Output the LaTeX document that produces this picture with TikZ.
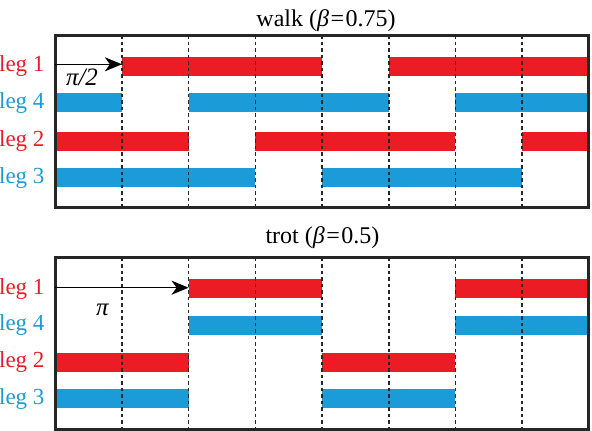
\documentclass[tikz,border=0pt]{standalone}
\usepackage{fontspec}
\setmainfont{Liberation Serif}
\usetikzlibrary{arrows.meta}
\definecolor{legred}{RGB}{236,28,36}
\definecolor{legblue}{RGB}{27,155,215}
\begin{document}
\begin{tikzpicture}[x=1pt,y=-1pt,
  frame/.style={line width=3pt,draw=black!85},
  grid/.style={line width=1.6pt,draw=black!85,dash pattern=on 3.5pt off 3pt},
  redbar/.style={fill=legred},
  bluebar/.style={fill=legblue},
  legred lbl/.style={text=legred,font=\fontsize{23}{25}\selectfont,anchor=base east},
  legblue lbl/.style={text=legblue,font=\fontsize{23}{25}\selectfont,anchor=base east},
  ttl/.style={font=\fontsize{24}{26}\selectfont,anchor=base},
  phase/.style={font=\fontsize{25}{27}\selectfont\itshape,anchor=base},
  phasearrow/.style={line width=1.5pt,-{Stealth[length=17pt,width=14pt,inset=5pt]}}
]
\useasboundingbox (0,0) rectangle (592,431);
\def\xa{55.2}\def\st{66.7}
% ---------- walk ----------
\node[ttl] (t1) at (326,26.5) {walk (\textit{β}\hspace{1.5pt}=\hspace{1.5pt}0.75)};
% bars: y centres
\def\ya{66}\def\yb{102.7}\def\yc{141.2}\def\yd{177.8}
\foreach \s/\e/\y/\c in {
  1/4/\ya/redbar, 5/8/\ya/redbar,
  0/1/\yb/bluebar, 2/5/\yb/bluebar, 6/8/\yb/bluebar,
  0/2/\yc/redbar, 3/6/\yc/redbar, 7/8/\yc/redbar,
  0/3/\yd/bluebar, 4/7/\yd/bluebar}{
  \fill[\c] ({\xa+\s*\st},{\y-9.5}) rectangle ({\xa+\e*\st},{\y+9.5});
}
\foreach \i in {1,...,7}{
  \draw[grid] ({\xa+\i*\st},35) -- ({\xa+\i*\st},207.3);
}
\draw[frame] (\xa,35) rectangle ({\xa+8*\st},207.3);
\node[legred lbl] (w1) at (48,71.7) {leg 1};
\node[legblue lbl] (w4) at (48,108.4) {leg 4};
\node[legred lbl] (w2) at (48,146.9) {leg 2};
\node[legblue lbl] (w3) at (48,183.5) {leg 3};
\coordinate (wa0) at (\xa,64.3);
\coordinate (wa1) at ({\xa+\st},64.3);
\draw[phasearrow] (wa0) -- (wa1);
\node[phase] (wp) at (82,85) {π/2};
% ---------- trot ----------
\node[ttl] (t2) at (322.4,243) {trot (\textit{β}\hspace{1.5pt}=\hspace{1.5pt}0.5)};
\def\ya{288.5}\def\yb{325}\def\yc{362}\def\yd{398.8}
\foreach \s/\e/\y/\c in {
  2/4/\ya/redbar, 6/8/\ya/redbar,
  2/4/\yb/bluebar, 6/8/\yb/bluebar,
  0/2/\yc/redbar, 4/6/\yc/redbar,
  0/2/\yd/bluebar, 4/6/\yd/bluebar}{
  \fill[\c] ({\xa+\s*\st},{\y-9.5}) rectangle ({\xa+\e*\st},{\y+9.5});
}
\foreach \i in {1,...,7}{
  \draw[grid] ({\xa+\i*\st},257.7) -- ({\xa+\i*\st},429);
}
\draw[frame] (\xa,257.7) rectangle ({\xa+8*\st},429);
\node[legred lbl] (r1) at (48,294.2) {leg 1};
\node[legblue lbl] (r4) at (48,330.7) {leg 4};
\node[legred lbl] (r2) at (48,367.7) {leg 2};
\node[legblue lbl] (r3) at (48,404.5) {leg 3};
\coordinate (ta0) at (\xa,287.7);
\coordinate (ta1) at ({\xa+2*\st},287.7);
\draw[phasearrow] (ta0) -- (ta1);
\node[phase] (tp) at (102.5,315) {π};
\end{tikzpicture}
\end{document}
